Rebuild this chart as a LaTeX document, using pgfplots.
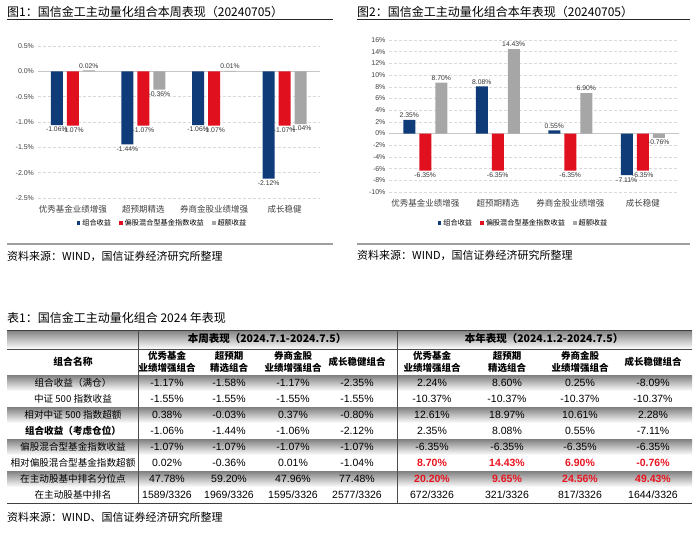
\documentclass[border=0pt]{standalone}
\usepackage{pgfplots}
\pgfplotsset{compat=1.18}
\usepackage{fontspec}
\setmainfont{Liberation Sans}
\newfontfamily\cjk{Noto Sans CJK SC}
\definecolor{cblue}{HTML}{0F3C78}
\definecolor{cred}{HTML}{E0101E}
\definecolor{cgray}{HTML}{A6A6A6}
\definecolor{tred}{HTML}{E8131F}
\definecolor{shade}{HTML}{EFEFEF}
\pgfplotsset{
 mybar/.style={fill=#1, draw=none, legend image code/.code={\fill[#1] (0pt,-2pt) rectangle (3.6pt,1.6pt);}},
 mychart/.style={
  scale only axis, ybar=4pt, bar width=12pt,
  xmin=-0.5, xmax=3.5, xtick={0,1,2,3},
  xticklabels={优秀基金业绩增强,超预期精选,券商金股业绩增强,成长稳健},
  axis line style={draw=none}, major tick length=0pt,
  ymajorgrids, major grid style={densely dashed, gray!30},
  tick label style={text=black!75},
  xticklabel style={font=\cjk\fontsize{8.5}{10}\selectfont, yshift=-4pt},
  yticklabel style={font=\fontsize{7}{8}\selectfont},
  /pgf/number format/assume math mode=true,
  nodes near coords={\pgfmathprintnumber[fixed,fixed zerofill,precision=2]{\pgfplotspointmeta}\%},
  every node near coord/.append style={font=\fontsize{6.8}{8}\selectfont, text=black!80, inner sep=2pt},
  legend style={draw=none, fill=none, font=\cjk\fontsize{7.2}{8}\selectfont, /tikz/every even column/.append style={column sep=6pt}},
  legend columns=3,
  extra y ticks={0}, extra y tick labels={}, extra y tick style={major grid style={solid, gray!45}},
 }}
\newcommand{\trow}[6]{%
 \node[font=\cjk\fontsize{9.6}{11}\selectfont] at (73,#1) {#2};
 \node[font=\fontsize{10.5}{12}\selectfont] at (167,#1) {#3};
 \node[font=\fontsize{10.5}{12}\selectfont] at (229,#1) {#4};
 \node[font=\fontsize{10.5}{12}\selectfont] at (293,#1) {#5};
 \node[font=\fontsize{10.5}{12}\selectfont] at (357,#1) {#6};}
\newcommand{\yrow}[6]{%
 \node[font=\fontsize{10.5}{12}\selectfont#2] at (432,#1) {#3};
 \node[font=\fontsize{10.5}{12}\selectfont#2] at (507,#1) {#4};
 \node[font=\fontsize{10.5}{12}\selectfont#2] at (580,#1) {#5};
 \node[font=\fontsize{10.5}{12}\selectfont#2] at (653,#1) {#6};}
\begin{document}
\begin{tikzpicture}[x=1pt,y=1pt]
\useasboundingbox (0,0) rectangle (700,536);
% ---------- chart 1 ----------
\node[anchor=west, inner sep=0pt, font=\cjk\fontsize{12}{14}\selectfont] at (7,524) {图1：国信金工主动量化组合本周表现（20240705）};
\draw[line width=0.8pt, black!85] (7,517) -- (333,517);
\begin{axis}[mychart, at={(37.5pt,338pt)}, anchor=south west, width=282.5pt, height=152pt,
  ymin=-2.5, ymax=0.5, ytick={-2.5,-2,-1.5,-1,-0.5,0,0.5},
  yticklabel={\pgfmathprintnumber[fixed,fixed zerofill,precision=1]{\tick}\%},
  legend style={at={(0.4425,-0.164)}, anchor=center}]
\addplot[mybar=cblue] coordinates {(0,-1.06) (1,-1.44) (2,-1.06) (3,-2.12)};
\addplot[mybar=cred] coordinates {(0,-1.07) (1,-1.07) (2,-1.07) (3,-1.07)};
\addplot[mybar=cgray] coordinates {(0,0.02) (1,-0.36) (2,0.01) (3,-1.04)};
\legend{组合收益,偏股混合型基金指数收益,超额收益}
\end{axis}
\draw[line width=1.5pt, gray!75] (7,292) -- (333,292);
\node[anchor=west, inner sep=0pt, font=\cjk\fontsize{11}{13}\selectfont] at (7,280) {资料来源：WIND，国信证券经济研究所整理};
% ---------- chart 2 ----------
\node[anchor=west, inner sep=0pt, font=\cjk\fontsize{12}{14}\selectfont] at (357,524) {图2：国信金工主动量化组合本年表现（20240705）};
\draw[line width=0.8pt, black!85] (357,517) -- (690,517);
\begin{axis}[mychart, at={(389pt,344pt)}, anchor=south west, width=290pt, height=152pt,
  ymin=-10, ymax=16, ytick={-10,-8,-6,-4,-2,0,2,4,6,8,10,12,14,16},
  yticklabel={\pgfmathprintnumber{\tick}\%},
  legend style={at={(0.464,-0.204)}, anchor=center}]
\addplot[mybar=cblue] coordinates {(0,2.35) (1,8.08) (2,0.55) (3,-7.11)};
\addplot[mybar=cred] coordinates {(0,-6.35) (1,-6.35) (2,-6.35) (3,-6.35)};
\addplot[mybar=cgray] coordinates {(0,8.70) (1,14.43) (2,6.90) (3,-0.76)};
\legend{组合收益,偏股混合型基金指数收益,超额收益}
\end{axis}
\draw[line width=1.5pt, gray!75] (357,292) -- (690,292);
\node[anchor=west, inner sep=0pt, font=\cjk\fontsize{11}{13}\selectfont] at (357,281) {资料来源：WIND，国信证券经济研究所整理};
% ---------- table ----------
\node[anchor=west, inner sep=0pt, font=\cjk\fontsize{12}{14}\selectfont] at (7,218) {表1：国信金工主动量化组合 2024 年表现};
\fill[shade] (7,206) rectangle (692,187);
\foreach \r in {1,3,5,7} {\fill[shade] (7,{161-16*(\r-1)}) rectangle (692,{161-16*\r});}
\draw[line width=1pt, black!75] (7,206) -- (692,206);
\draw[line width=0.6pt, black!70] (7,187) -- (692,187);
\draw[line width=1pt, black!75] (7,33) -- (692,33);
\draw[line width=0.7pt, black!70] (138,206) -- (138,33);
\draw[line width=0.7pt, black!70] (397,206) -- (397,33);
\node[font=\cjk\bfseries\fontsize{10.5}{12}\selectfont] at (267,197) {本周表现（2024.7.1-2024.7.5）};
\node[font=\cjk\bfseries\fontsize{10.5}{12}\selectfont] at (544,197) {本年表现（2024.1.2-2024.7.5）};
\node[font=\cjk\bfseries\fontsize{9.8}{12}\selectfont] at (73,174) {组合名称};
\foreach \xx in {167,432} {\node[align=center, inner sep=0pt, font=\cjk\bfseries\fontsize{9.5}{12}\selectfont] at (\xx,174) {优秀基金\\业绩增强组合};}
\foreach \xx in {229,507} {\node[align=center, inner sep=0pt, font=\cjk\bfseries\fontsize{9.5}{12}\selectfont] at (\xx,174) {超预期\\精选组合};}
\foreach \xx in {293,580} {\node[align=center, inner sep=0pt, font=\cjk\bfseries\fontsize{9.5}{12}\selectfont] at (\xx,174) {券商金股\\业绩增强组合};}
\foreach \xx in {357,653} {\node[align=center, inner sep=0pt, font=\cjk\bfseries\fontsize{9.5}{12}\selectfont] at (\xx,174) {成长稳健组合};}
\trow{153}{组合收益（满仓）}{-1.17\%}{-1.58\%}{-1.17\%}{-2.35\%}
\yrow{153}{}{2.24\%}{8.60\%}{0.25\%}{-8.09\%}
\trow{137}{中证 500 指数收益}{-1.55\%}{-1.55\%}{-1.55\%}{-1.55\%}
\yrow{137}{}{-10.37\%}{-10.37\%}{-10.37\%}{-10.37\%}
\trow{121}{相对中证 500 指数超额}{0.38\%}{-0.03\%}{0.37\%}{-0.80\%}
\yrow{121}{}{12.61\%}{18.97\%}{10.61\%}{2.28\%}
\trow{105}{\bfseries 组合收益（考虑仓位）}{-1.06\%}{-1.44\%}{-1.06\%}{-2.12\%}
\yrow{105}{}{2.35\%}{8.08\%}{0.55\%}{-7.11\%}
\trow{89}{偏股混合型基金指数收益}{-1.07\%}{-1.07\%}{-1.07\%}{-1.07\%}
\yrow{89}{}{-6.35\%}{-6.35\%}{-6.35\%}{-6.35\%}
\trow{73}{相对偏股混合型基金指数超额}{0.02\%}{-0.36\%}{0.01\%}{-1.04\%}
\yrow{73}{\bfseries\color{tred}}{8.70\%}{14.43\%}{6.90\%}{-0.76\%}
\trow{57}{在主动股基中排名分位点}{47.78\%}{59.20\%}{47.96\%}{77.48\%}
\yrow{57}{\bfseries\color{tred}}{20.20\%}{9.65\%}{24.56\%}{49.43\%}
\trow{41}{在主动股基中排名}{1589/3326}{1969/3326}{1595/3326}{2577/3326}
\yrow{41}{}{672/3326}{321/3326}{817/3326}{1644/3326}
\node[anchor=west, inner sep=0pt, font=\cjk\fontsize{11}{13}\selectfont] at (7,19) {资料来源：WIND、国信证券经济研究所整理};
\end{tikzpicture}
\end{document}
